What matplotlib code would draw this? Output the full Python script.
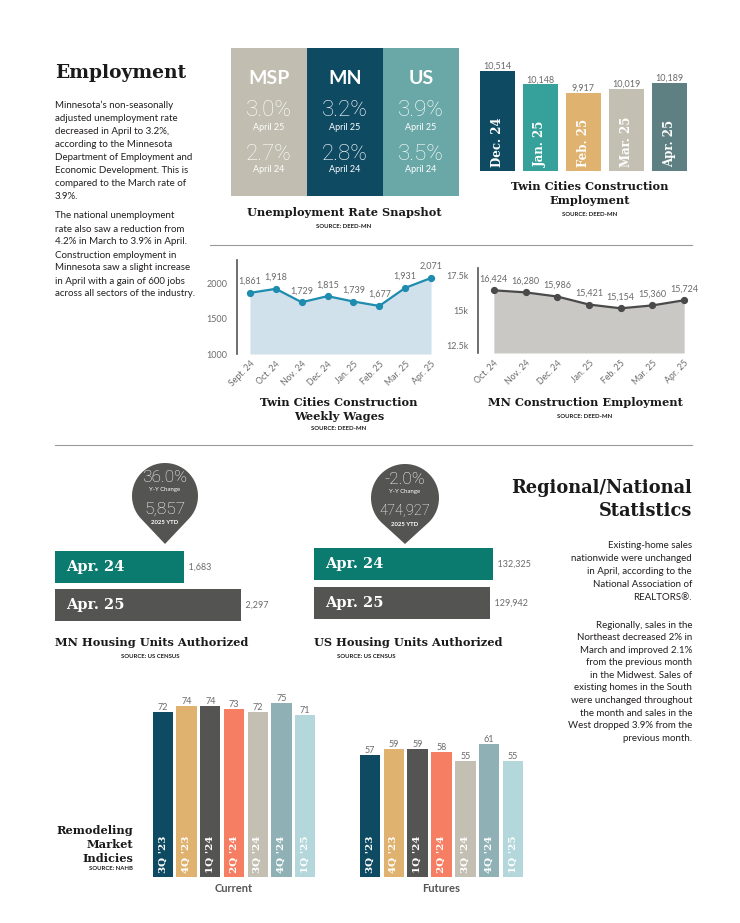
import matplotlib

matplotlib.use("Agg")
import matplotlib.pyplot as plt
import numpy as np
from matplotlib.patches import Polygon, Rectangle

plt.rcParams["font.family"] = ["Lato", "DejaVu Sans"]

W, H = 740, 923
SERIF = "DejaVu Serif"
THIN = ["Roboto", "Lato", "DejaVu Sans"]
LABEL_GRAY = "#6b6b6b"
BODY = "#231f20"

# ---- data -------------------------------------------------------------
snap_regions = ["MSP", "MN", "US"]
snap_apr25 = ["3.0%", "3.2%", "3.9%"]
snap_apr24 = ["2.7%", "2.8%", "3.5%"]
snap_colors = ["#c1bdb0", "#0f4a63", "#6aa8a8"]

tc_emp_months = ["Dec. 24", "Jan. 25", "Feb. 25", "Mar. 25", "Apr. 25"]
tc_emp_values = [10514, 10148, 9917, 10019, 10189]
tc_emp_colors = ["#0e4b63", "#36a09b", "#dfb26f", "#c3bfb2", "#5f8082"]

wage_months = ["Sept. 24", "Oct. 24", "Nov. 24", "Dec. 24", "Jan. 25", "Feb. 25", "Mar. 25", "Apr. 25"]
wage_values = [1861, 1918, 1729, 1815, 1739, 1677, 1931, 2071]

mn_emp_months = ["Oct. 24", "Nov. 24", "Dec. 24", "Jan. 25", "Feb. 25", "Mar. 25", "Apr. 25"]
mn_emp_values = [16424, 16280, 15986, 15421, 15154, 15360, 15724]

housing_labels = ["Apr. 24", "Apr. 25"]
housing_colors = ["#0b7b70", "#545452"]
mn_housing = [1683, 2297]
us_housing = [132325, 129942]
mn_pin = ["36.0%", "5,857"]
us_pin = ["-2.0%", "474,927"]

quarters = ["3Q '23", "4Q '23", "1Q '24", "2Q '24", "3Q '24", "4Q '24", "1Q '25"]
remodel_current = [72, 74, 74, 73, 72, 75, 71]
remodel_futures = [57, 59, 59, 58, 55, 61, 55]
remodel_colors = ["#0e4b63", "#dfb26f", "#545553", "#f57e63", "#c3bfb2", "#8fb1b6", "#b4d7db"]

left_para1 = [
    "Minnesota\u2019s non-seasonally",
    "adjusted unemployment rate",
    "decreased in April to 3.2%,",
    "according to the Minnesota",
    "Department of Employment and",
    "Economic Development. This is",
    "compared to the March rate of",
    "3.9%.",
]
left_para2 = [
    "The national unemployment",
    "rate also saw a reduction from",
    "4.2% in March to 3.9% in April.",
    "Construction employment in",
    "Minnesota saw a slight increase",
    "in April with a gain of 600 jobs",
    "across all sectors of the industry.",
]
right_para1 = [
    "Existing-home sales",
    "nationwide were unchanged",
    "in April, according to the",
    "National Association of",
    "REALTORS\u00ae.",
]
right_para2 = [
    "Regionally, sales in the",
    "Northeast decreased 2% in",
    "March and improved 2.1%",
    "from the previous month",
    "in the Midwest. Sales of",
    "existing homes in the South",
    "were unchanged throughout",
    "the month and sales in the",
    "West dropped 3.9% from the",
    "previous month.",
]

fig = plt.figure(figsize=(W / 100, H / 100), dpi=100)


def axes_px(x0, y0, x1, y1):
    ax = fig.add_axes([x0 / W, 1 - y1 / H, (x1 - x0) / W, (y1 - y0) / H])
    ax.patch.set_alpha(0)
    return ax


# full-page overlay in pixel coordinates for text and decoration
ov = axes_px(0, 0, W, H)
ov.set_xlim(0, W)
ov.set_ylim(H, 0)
ov.axis("off")


def txt(x, y, s, **kw):
    kw.setdefault("va", "center")
    kw.setdefault("color", BODY)
    ov.text(x, y, s, **kw)


def title(x, y, s, size=8.2, ha="center"):
    txt(x, y, s, ha=ha, family=SERIF, fontweight="bold", fontsize=size, color="#1a1a1a")


def source(x, y, s, ha="center"):
    txt(x, y, s, ha=ha, fontsize=4.3, fontweight="bold", color="#1e1e1e")


def paragraph(x, y0, lines, step, ha="left"):
    for i, line in enumerate(lines):
        txt(x, y0 + i * step, line, ha=ha, fontsize=7)


def pin(cx, cy, r, tip_y, top, bottom):
    d = tip_y - cy
    a = np.arccos(r / d)
    t = np.linspace(a, 2 * np.pi - a, 80)
    pts = np.column_stack([cx + r * np.sin(t), cy + r * np.cos(t)])
    pts = np.vstack([pts, [cx, tip_y]])
    ov.add_patch(Polygon(pts, closed=True, color="#545452", lw=0))
    txt(cx, cy - 18, top, ha="center", fontsize=12.5, family=THIN, fontweight="light", color="white")
    txt(cx, cy - 7, "Y-Y Change", ha="center", fontsize=4.3, color="white")
    big = 12.5 if len(bottom) < 6 else 10.5
    txt(cx, cy + 13, bottom, ha="center", fontsize=big, family=THIN, fontweight="light", color="white")
    txt(cx, cy + 26, "2025 YTD", ha="center", fontsize=4.3, fontweight="bold", color="white")


def line_panel(ax, months, values, line_color, fill_color, ymin, fmt_ticks):
    x = np.arange(len(values))
    ax.fill_between(x, values, ymin, color=fill_color, lw=0)
    ax.plot(x, values, color=line_color, lw=1.6, marker="o", markersize=4.2)
    for xi, v in zip(x, values):
        ax.annotate(f"{v:,}", (xi, v), xytext=(0, 5), textcoords="offset points",
                    ha="center", va="bottom", fontsize=6.5, color=LABEL_GRAY)
    ax.set_xlim(-0.5, len(values) - 0.5)
    ax.set_xticks(x)
    ax.set_xticklabels(months, rotation=45, ha="right", rotation_mode="anchor",
                       fontsize=6.3, color=LABEL_GRAY)
    ax.set_yticks(fmt_ticks[0])
    ax.set_yticklabels(fmt_ticks[1], fontsize=6.5, color=LABEL_GRAY)
    ax.tick_params(length=0)
    ax.tick_params(axis="y", pad=7)
    ax.tick_params(axis="x", pad=4)
    for s in ["top", "right", "bottom"]:
        ax.spines[s].set_visible(False)
    ax.spines["left"].set_color("#555555")
    ax.spines["left"].set_linewidth(1.2)


def vbars(ax, labels, values, colors, ymin, ymax, width):
    x = np.arange(len(values))
    ax.bar(x, values, width=width, color=colors, bottom=0)
    ax.set_ylim(ymin, ymax)
    ax.set_xlim(-0.5, len(values) - 0.5)
    for xi, v in zip(x, values):
        ax.text(xi, v, f"{v:,}", ha="center", va="bottom", fontsize=6.5, color=LABEL_GRAY)
    ax.axis("off")
    return x


# ---- Employment text ---------------------------------------------------
txt(55, 73, "Employment", ha="left", family=SERIF, fontweight="bold", fontsize=13.4, color="#1a1a1a")
paragraph(55, 105, left_para1, 13.1)
paragraph(55, 216, left_para2, 13.0)

# ---- Unemployment snapshot ---------------------------------------------
col_w = 76
for i, (reg, a25, a24, c) in enumerate(zip(snap_regions, snap_apr25, snap_apr24, snap_colors)):
    x0 = 231 + i * col_w
    ov.add_patch(Rectangle((x0, 48), col_w, 148, color=c, lw=0))
    cx = x0 + col_w / 2
    txt(cx, 79, reg, ha="center", fontsize=14, fontweight="bold", color="white")
    txt(cx, 111, a25, ha="center", fontsize=16, family=THIN, fontweight="light", color="white")
    txt(cx, 128, "April 25", ha="center", fontsize=6.5, color="white")
    txt(cx, 155, a24, ha="center", fontsize=16, family=THIN, fontweight="light", color="white")
    txt(cx, 170, "April 24", ha="center", fontsize=6.5, color="white")
title(344, 213, "Unemployment Rate Snapshot")
source(344, 227, "SOURCE: DEED-MN")

# ---- Twin Cities construction employment bars --------------------------
ax_tc = axes_px(476, 60, 691, 171)
xb = vbars(ax_tc, tc_emp_months, tc_emp_values, tc_emp_colors, 7800, 10808, 0.81)
for xi, lab in zip(xb, tc_emp_months):
    ax_tc.text(xi, 7900, lab, rotation=90, ha="center", va="bottom", color="white",
               family=SERIF, fontweight="bold", fontsize=8.5)
title(590, 186, "Twin Cities Construction")
title(590, 201, "Employment")
source(590, 215, "SOURCE: DEED-MN")

# separators
ov.plot([210, 692], [245, 245], color="#9a9a9a", lw=0.8)
ov.plot([55, 692], [445, 445], color="#9a9a9a", lw=0.8)

# ---- Weekly wages line ---------------------------------------------------
ax_w = axes_px(237, 260, 444, 354)
line_panel(ax_w, wage_months, wage_values, "#1d8cae", "#d0e1ec", 1000,
           ([1000, 1500, 2000], ["1000", "1500", "2000"]))
ax_w.set_ylim(1000, 2324)
title(339, 402, "Twin Cities Construction")
title(339, 417, "Weekly Wages")
source(339, 429, "SOURCE: DEED-MN")

# ---- MN construction employment line ------------------------------------
ax_m = axes_px(478, 268, 700, 353)
line_panel(ax_m, mn_emp_months, mn_emp_values, "#4a4a4a", "#cac8c5", 12000,
           ([12500, 15000, 17500], ["12.5k", "15k", "17.5k"]))
ax_m.set_ylim(12000, 18000)
title(585, 402, "MN Construction Employment")
source(585, 417, "SOURCE: DEED-MN")

# ---- Housing units authorized -------------------------------------------


def hbars(ax, values, xmin, xmax):
    y = np.arange(len(values))
    ax.barh(y, values, height=0.84, color=housing_colors)
    ax.set_ylim(len(values) - 0.5, -0.5)
    ax.set_xlim(xmin, xmax)
    for yi, v, lab in zip(y, values, housing_labels):
        ax.text(v, yi, f"  {v:,}", ha="left", va="center", fontsize=6.5, color=LABEL_GRAY)
        ax.text(xmin + (xmax - xmin) * 0.045, yi, lab, ha="left", va="center", color="white",
                family=SERIF, fontweight="bold", fontsize=10.5)
    ax.axis("off")


ax_mh = axes_px(55, 548, 300, 624)
hbars(ax_mh, mn_housing, 290, 2930)
pin(165, 496, 33, 544, *mn_pin)
title(55, 643, "MN Housing Units Authorized", ha="left")
source(150, 657, "SOURCE: US CENSUS")

ax_uh = axes_px(314, 545, 560, 622)
hbars(ax_uh, us_housing, 0, 181800)
pin(405, 498, 34, 544, *us_pin)
title(314, 643, "US Housing Units Authorized", ha="left")
source(366, 657, "SOURCE: US CENSUS")

# ---- Regional / National text ------------------------------------------
txt(692, 488, "Regional/National", ha="right", family=SERIF, fontweight="bold", fontsize=12.8, color="#1a1a1a")
txt(692, 511, "Statistics", ha="right", family=SERIF, fontweight="bold", fontsize=12.8, color="#1a1a1a")
paragraph(692, 545, right_para1, 13.1, ha="right")
paragraph(692, 625, right_para2, 12.6, ha="right")

# ---- Remodeling market indices ------------------------------------------
for x0, x1, vals, name in [(151, 317, remodel_current, "Current"), (358, 525, remodel_futures, "Futures")]:
    ax_r = axes_px(x0, 690, x1, 877)
    xr = vbars(ax_r, quarters, vals, remodel_colors, 15, 79.5, 0.86)
    for xi, lab in zip(xr, quarters):
        ax_r.text(xi, 16.5, lab, rotation=90, ha="center", va="bottom", color="white",
                  family=SERIF, fontweight="bold", fontsize=7.5)
    txt((x0 + x1) / 2, 889, name, ha="center", fontsize=8, fontweight="bold", color="#555555")

title(133, 831, "Remodeling", ha="right")
title(133, 845, "Market", ha="right")
title(133, 858, "Indicies", ha="right")
source(133, 869, "SOURCE: NAHB", ha="right")

fig.savefig("out.png", dpi=100)
